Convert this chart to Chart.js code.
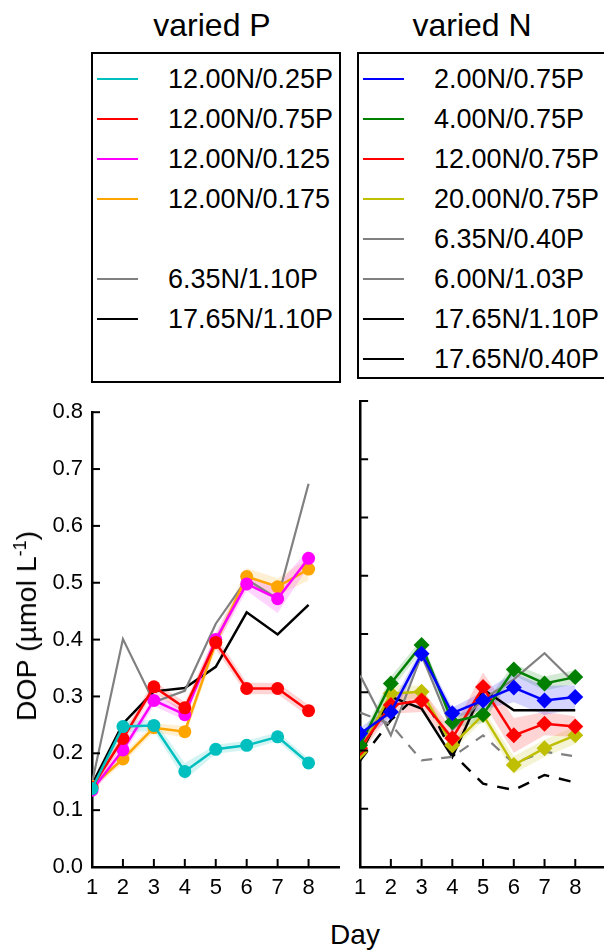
<!DOCTYPE html>
<html>
<head>
<meta charset="utf-8">
<script src="https://cdn.jsdelivr.net/npm/chart.js@4.4.1/dist/chart.umd.min.js"></script>
<style>
  html, body { margin: 0; padding: 0; background: #fff; }
  body { width: 604px; height: 952px; position: relative; overflow: hidden;
         font-family: 'Liberation Sans', Arial, sans-serif; color: #000; }
  .title { position: absolute; top: 9px; font-size: 32px; line-height: 32px;
           transform: translateX(-50%); white-space: nowrap; }
  .legend { position: absolute; top: 52px; box-sizing: border-box;
            border: 2px solid #000; padding-top: 5px; background: #fff; }
  .legend .row { height: 40px; display: flex; align-items: center; }
  .legend .swatch { height: 2px; margin-left: 4px; width: 41px; flex: none; }
  .legend .txt { margin-left: 30px; font-size: 27px; white-space: nowrap; }
  canvas { position: absolute; }
  #ylab { position: absolute; left: 26px; top: 626px; font-size: 28.5px; line-height: 30px;
          transform: translate(-50%, -50%) rotate(-90deg); white-space: nowrap; }
  #ylab sup { font-size: 18px; line-height: 0; }
  #xlab { position: absolute; left: 355px; top: 921px; font-size: 28px; line-height: 28px;
          transform: translateX(-50%); }
</style>
</head>
<body>
<div class="title" style="left:212px">varied P</div>
<div class="title" style="left:472px">varied N</div>
<div class="legend" id="legP" style="left:91px; width:250px; height:331px"></div>
<div class="legend" id="legN" style="left:357px; width:260px; height:327px"></div>
<canvas id="chartP" width="346" height="515" style="left:0; top:390px"></canvas>
<canvas id="chartN" width="268" height="515" style="left:346px; top:390px"></canvas>
<div id="ylab">DOP (µmol L<sup>-1</sup>)</div>
<div id="xlab">Day</div>

<script>
// ===== データ =====
const days = [1, 2, 3, 4, 5, 6, 7, 8];
const yTicks = [0, 0.1, 0.2, 0.3, 0.4, 0.5, 0.6, 0.7, 0.8];

// varied P
const p12N025P  = [0.138, 0.247, 0.249, 0.168, 0.207, 0.214, 0.229, 0.183];
const p12N075P  = [0.140, 0.226, 0.317, 0.280, 0.395, 0.314, 0.314, 0.275];
const p12N0125  = [0.135, 0.206, 0.293, 0.268, 0.400, 0.498, 0.472, 0.543];
const p12N0175  = [0.142, 0.190, 0.245, 0.238, 0.395, 0.511, 0.493, 0.524];
const p635N110P = [0.148, 0.401, 0.290, 0.310, 0.428, 0.506, 0.472, 0.674];
const p1765N110P = [0.145, 0.252, 0.309, 0.315, 0.352, 0.448, 0.409, 0.461];

// 誤差帯（半幅）
const p12N025PErr = [0.006, 0.010, 0.010, 0.015, 0.008, 0.008, 0.008, 0.008];
const p12N075PErr = [0.006, 0.010, 0.010, 0.010, 0.012, 0.010, 0.010, 0.010];
const p12N0125Err = [0.006, 0.010, 0.010, 0.010, 0.012, 0.012, 0.025, 0.015];
const p12N0175Err = [0.006, 0.008, 0.008, 0.010, 0.012, 0.015, 0.015, 0.020];

// varied N
const n2N075P    = [0.229, 0.266, 0.366, 0.264, 0.286, 0.308, 0.286, 0.292];
const n4N075P    = [0.209, 0.315, 0.381, 0.249, 0.262, 0.339, 0.315, 0.326];
const n12N075P   = [0.204, 0.278, 0.286, 0.221, 0.309, 0.226, 0.246, 0.241];
const n20N075P   = [0.198, 0.298, 0.301, 0.209, 0.261, 0.175, 0.204, 0.226];
const n635N040P  = [0.265, 0.245, 0.183, 0.189, 0.226, 0.178, 0.198, 0.190];
const n600N103P  = [0.329, 0.226, 0.364, 0.235, 0.288, 0.322, 0.367, 0.315];
const n1765N110P = [0.195, 0.292, 0.272, 0.189, 0.305, 0.269, 0.269, 0.269];
const n1765N040P = [0.183, 0.252, 0.302, 0.195, 0.143, 0.132, 0.158, 0.145];

const n2N075PErr  = [0.010, 0.012, 0.010, 0.010, 0.015, 0.025, 0.025, 0.020];
const n4N075PErr  = [0.010, 0.012, 0.010, 0.010, 0.015, 0.010, 0.012, 0.012];
const n12N075PErr = [0.010, 0.015, 0.020, 0.015, 0.025, 0.030, 0.020, 0.018];
const n20N075PErr = [0.010, 0.015, 0.010, 0.010, 0.010, 0.015, 0.015, 0.015];

// ===== 系列定義 =====
const seriesP = [
  { label: '12.00N/0.25P', data: p12N025P, err: p12N025PErr, color: '#00bfbf', rgb: '0,191,191', marker: 'circle' },
  { label: '12.00N/0.75P', data: p12N075P, err: p12N075PErr, color: '#ff0000', rgb: '255,0,0', marker: 'circle' },
  { label: '12.00N/0.125', data: p12N0125, err: p12N0125Err, color: '#ff00ff', rgb: '255,0,255', marker: 'circle' },
  { label: '12.00N/0.175', data: p12N0175, err: p12N0175Err, color: '#ffa500', rgb: '255,165,0', marker: 'circle' },
  null, // 凡例の空行
  { label: '6.35N/1.10P', data: p635N110P, color: '#808080' },
  { label: '17.65N/1.10P', data: p1765N110P, color: '#000000' }
];

const seriesN = [
  { label: '2.00N/0.75P', data: n2N075P, err: n2N075PErr, color: '#0000ff', rgb: '0,0,255', marker: 'rectRot' },
  { label: '4.00N/0.75P', data: n4N075P, err: n4N075PErr, color: '#008000', rgb: '0,128,0', marker: 'rectRot' },
  { label: '12.00N/0.75P', data: n12N075P, err: n12N075PErr, color: '#ff0000', rgb: '255,0,0', marker: 'rectRot' },
  { label: '20.00N/0.75P', data: n20N075P, err: n20N075PErr, color: '#bfbf00', rgb: '191,191,0', marker: 'rectRot' },
  { label: '6.35N/0.40P', data: n635N040P, color: '#808080', dash: [11, 9] },
  { label: '6.00N/1.03P', data: n600N103P, color: '#808080' },
  { label: '17.65N/1.10P', data: n1765N110P, color: '#000000' },
  { label: '17.65N/0.40P', data: n1765N040P, color: '#000000', dash: [12, 10] }
];

// ===== 凡例 =====
function buildLegend(id, series) {
  const box = document.getElementById(id);
  series.forEach(s => {
    const row = document.createElement('div');
    row.className = 'row';
    if (s) {
      row.innerHTML = '<div class="swatch" style="background:' + s.color + '"></div>' +
                      '<div class="txt">' + s.label + '</div>';
    }
    box.appendChild(row);
  });
}
buildLegend('legP', seriesP);
buildLegend('legN', seriesN);

// ===== データセット作成 =====
function buildDatasets(series) {
  const sets = [];
  series.forEach(s => {
    if (!s) return;
    const pts = days.map((d, k) => ({ x: d, y: s.data[k] }));
    if (s.err) {
      sets.push({
        data: days.map((d, k) => ({ x: d, y: s.data[k] + s.err[k] })),
        borderWidth: 0, pointRadius: 0, fill: false, order: 20
      });
      sets.push({
        data: days.map((d, k) => ({ x: d, y: s.data[k] - s.err[k] })),
        borderWidth: 0, pointRadius: 0, fill: '-1',
        backgroundColor: 'rgba(' + s.rgb + ',0.17)', order: 20
      });
    }
    sets.push({
      label: s.label,
      data: pts,
      borderColor: s.color,
      backgroundColor: s.color,
      borderWidth: s.marker ? 2.5 : (s.color === '#808080' ? 2.2 : 2.5),
      borderDash: s.dash || [],
      pointRadius: s.marker ? (s.marker === 'circle' ? 6.5 : 8) : 0,
      pointStyle: s.marker || 'circle',
      pointBorderWidth: 0,
      fill: false,
      tension: 0,
      order: s.marker ? 1 : 2
    });
  });
  return sets;
}

// 内向きの目盛り
const inwardTicks = {
  id: 'inwardTicks',
  afterDraw(chart) {
    const { ctx, chartArea, scales } = chart;
    ctx.save();
    ctx.strokeStyle = '#000';
    ctx.lineWidth = 2;
    yTicks.forEach(v => {
      if (v === yTicks[0]) return;
      const py = scales.y.getPixelForValue(v);
      ctx.beginPath();
      ctx.moveTo(chartArea.left, py);
      ctx.lineTo(chartArea.left + 8, py);
      ctx.stroke();
    });
    days.forEach(d => {
      if (d === days[0]) return;
      const px = scales.x.getPixelForValue(d);
      ctx.beginPath();
      ctx.moveTo(px, chartArea.bottom);
      ctx.lineTo(px, chartArea.bottom - 8);
      ctx.stroke();
    });
    ctx.restore();
  }
};

const tickFont = { family: "'Liberation Sans', Arial, sans-serif", size: 22 };

function makeChart(canvasId, series, showYLabels, yWidth, padRight) {
  return new Chart(document.getElementById(canvasId), {
    type: 'line',
    data: { datasets: buildDatasets(series) },
    options: {
      responsive: false,
      animation: false,
      layout: { padding: { top: 11, right: padRight, left: 0, bottom: 0 } },
      plugins: { legend: { display: false }, tooltip: { enabled: false } },
      scales: {
        x: {
          type: 'linear',
          min: 1, max: 9,
          afterBuildTicks: s => { s.ticks = days.map(d => ({ value: d })); },
          afterFit: s => { s.height = 38; },
          ticks: { color: '#000', font: tickFont, padding: 8, maxRotation: 0 },
          grid: { display: false, drawTicks: false },
          border: { display: true, color: '#000', width: 2.5 }
        },
        y: {
          min: 0, max: 0.8,
          afterBuildTicks: s => { s.ticks = yTicks.map(v => ({ value: v })); },
          afterFit: s => { s.width = yWidth; },
          ticks: {
            display: showYLabels, color: '#000', font: tickFont, padding: 9,
            callback: v => v.toFixed(1)
          },
          grid: { display: false, drawTicks: false },
          border: { display: true, color: '#000', width: 2.5 }
        }
      }
    },
    plugins: [inwardTicks]
  });
}

makeChart('chartP', seriesP, true, 92, 1);
makeChart('chartN', seriesN, false, 11, 4);
</script>
</body>
</html>
